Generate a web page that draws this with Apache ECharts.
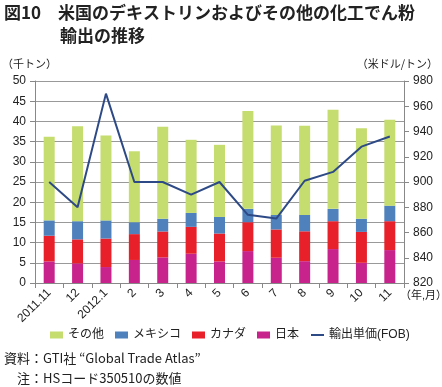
<!DOCTYPE html>
<html><head><meta charset="utf-8">
<script src="https://cdn.jsdelivr.net/npm/echarts@6/dist/echarts.min.js"></script>
<style>html,body{margin:0;padding:0;background:#fff}#c{width:442px;height:387px}</style>
</head><body><div id="c"></div>
<script>
const categories = ['2011.11','12','2012.1','2','3','4','5','6','7','8','9','10','11'];
const japan  = [5.35,4.85,3.95,5.7,6.35,7.25,5.35,7.9,6.25,5.4,8.4,5.0,8.15];
const canada = [6.35,5.95,7.05,6.4,6.4,6.65,6.9,7.15,7.0,7.4,6.9,7.65,7.15];
const mexico = [3.8,4.5,4.5,2.95,3.15,3.45,4.1,3.3,3.6,4.05,3.05,3.25,3.85];
const other  = [20.7,23.5,21.0,17.55,22.75,18.1,17.85,24.25,22.15,22.05,24.55,22.4,21.25];
const price  = [900,880,970,900,900,890,900,874,871,901,908,928,936];
const leftTicks = {min:0,max:50,interval:5};
const rightTicks = {min:820,max:980,interval:20};

const FF = 'Arial, "Liberation Sans", "Noto Sans CJK JP", sans-serif';
const JF = '"Noto Sans CJK JP", sans-serif';
const chart = echarts.init(document.getElementById('c'));
const barW = 11;
chart.setOption({
  animation:false,
  textStyle:{fontFamily:FF},
  grid:{left:35,right:38,top:81,bottom:104},
  legend:{
    left:50, top:329, width:390, padding:0, itemGap:11, itemWidth:13, itemHeight:7,
    textStyle:{fontSize:12,color:'#222',fontFamily:FF},
    data:[{name:'その他',icon:'rect'},{name:'メキシコ',icon:'rect'},{name:'カナダ',icon:'rect'},{name:'日本',icon:'rect'},{name:'輸出単価(FOB)',itemStyle:{opacity:0}}]
  },
  xAxis:{
    type:'category', data:categories,
    axisLine:{lineStyle:{color:'#888'}},
    axisTick:{show:true,interval:0,length:5,lineStyle:{color:'#888'}},
    axisLabel:{interval:0,rotate:45,fontSize:12,color:'#222',margin:8}
  },
  yAxis:[{
    type:'value', ...leftTicks,
    axisLine:{show:true,lineStyle:{color:'#888'}},
    axisTick:{show:true,length:5,lineStyle:{color:'#888'}},
    axisLabel:{fontSize:12,color:'#222',margin:9},
    splitLine:{lineStyle:{color:'#999',width:1}}
  },{
    type:'value', ...rightTicks,
    axisLine:{show:true,lineStyle:{color:'#888'}},
    axisTick:{show:true,length:5,lineStyle:{color:'#888'}},
    axisLabel:{fontSize:12,color:'#222',margin:9},
    splitLine:{show:false}
  }],
  series:[
    {name:'日本',type:'bar',stack:'a',data:japan,barWidth:barW,itemStyle:{color:'#c8238c'}},
    {name:'カナダ',type:'bar',stack:'a',data:canada,barWidth:barW,itemStyle:{color:'#e8202a'}},
    {name:'メキシコ',type:'bar',stack:'a',data:mexico,barWidth:barW,itemStyle:{color:'#4f81bd'}},
    {name:'その他',type:'bar',stack:'a',data:other,barWidth:barW,itemStyle:{color:'#c5dc6e'}},
    {name:'輸出単価(FOB)',type:'line',yAxisIndex:1,data:price,symbol:'none',lineStyle:{color:'#2e4a86',width:2},itemStyle:{color:'#2e4a86'},z:5}
  ],
  graphic:[
    {type:'text',left:4,top:4,style:{text:'図10　米国のデキストリンおよびその他の化工でん粉',font:'bold 17px '+JF,fill:'#222'}},
    {type:'text',left:60,top:27,style:{text:'輸出の推移',font:'bold 17px '+JF,fill:'#222'}},
    {type:'text',left:2,top:58,style:{text:'（千トン）',font:'11px '+JF,fill:'#222'}},
    {type:'text',right:4,top:58,style:{text:'（米ドル/トン）',font:'11px '+JF,fill:'#222'}},
    {type:'text',left:400,top:290,style:{text:'（年,月）',font:'11px '+FF,fill:'#222'}},
    {type:'text',left:4,top:352,style:{text:'資料：GTI社 “Global Trade Atlas”',font:'13px '+JF,fill:'#222'}},
    {type:'text',left:17,top:372,style:{text:'注：HSコード350510の数値',font:'13px '+JF,fill:'#222'}}
  ]
});
</script></body></html>
